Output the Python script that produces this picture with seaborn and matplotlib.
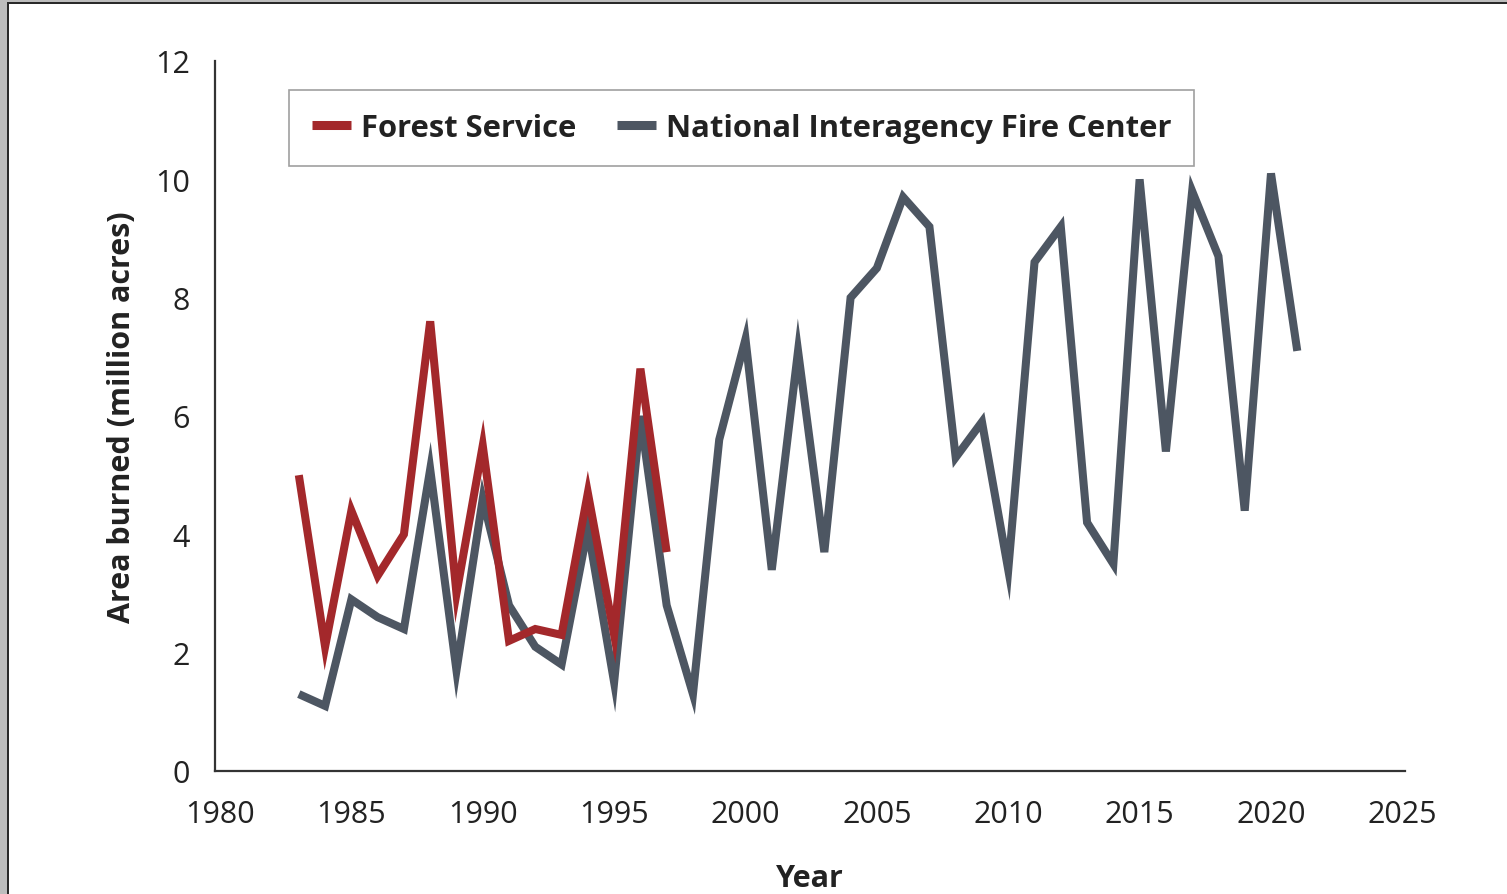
import pandas as pd
import numpy as np
import matplotlib
matplotlib.use("Agg")
import matplotlib.pyplot as plt
import seaborn as sns
from matplotlib.patches import Rectangle
from matplotlib.lines import Line2D

# Forest Service, 1983-1997
fs_years = list(range(1983, 1998))
fs_area = [5.0, 2.1, 4.4, 3.3, 4.0, 7.6, 3.0, 5.5, 2.2, 2.4, 2.3, 4.7, 2.3, 6.8, 3.7]

# National Interagency Fire Center, 1983-2021
nifc_years = list(range(1983, 2022))
nifc_area = [1.3, 1.1, 2.9, 2.6, 2.4, 5.1, 1.7, 4.6, 2.8, 2.1, 1.8, 4.1, 1.5, 6.0,
             2.8, 1.3, 5.6, 7.3, 3.4, 7.1, 3.7, 8.0, 8.5, 9.7, 9.2, 5.3, 5.9, 3.4,
             8.6, 9.2, 4.2, 3.5, 10.0, 5.4, 9.8, 8.7, 4.4, 10.1, 7.1]

x_ticks = [1980, 1985, 1990, 1995, 2000, 2005, 2010, 2015, 2020, 2025]
y_ticks = [0, 2, 4, 6, 8, 10, 12]

df = pd.concat([
    pd.DataFrame({"Year": fs_years, "Area": fs_area, "Source": "Forest Service"}),
    pd.DataFrame({"Year": nifc_years, "Area": nifc_area, "Source": "National Interagency Fire Center"}),
])

sns.set_style("white")
plt.rcParams["font.family"] = ["Open Sans", "DejaVu Sans"]

palette = {"Forest Service": "#a3282b", "National Interagency Fire Center": "#4d5662"}

fig = plt.figure(figsize=(15.07, 8.95), dpi=100)
ax = fig.add_axes([215 / 1507, (895 - 772) / 895, (1405 - 215) / 1507, (772 - 62) / 895])

# NIFC first so the red series sits on top
sns.lineplot(data=df, x="Year", y="Area", hue="Source", palette=palette,
             hue_order=["National Interagency Fire Center", "Forest Service"],
             linewidth=5.8, ax=ax, legend=False)
for ln in ax.lines:
    ln.set_solid_joinstyle("miter")
    ln.set_solid_capstyle("butt")

ax.set_xlim(1979.81, 2025.1)
ax.set_ylim(0, 12)
ax.set_xticks(x_ticks)
ax.set_yticks(y_ticks)
ax.tick_params(axis="both", length=0, labelsize=22, colors="#222222")
ax.tick_params(axis="x", pad=20)
ax.tick_params(axis="y", pad=18)

for s in ["top", "right"]:
    ax.spines[s].set_visible(False)
for s in ["left", "bottom"]:
    ax.spines[s].set_color("#333333")
    ax.spines[s].set_linewidth(1.6)

ax.set_xlabel("Year", fontsize=22, fontweight="bold", color="#222222", labelpad=25)
ax.set_ylabel("Area burned (million acres)", fontsize=22, fontweight="bold",
              color="#222222", labelpad=13)

handles = [Line2D([], [], color=palette["Forest Service"], linewidth=6.5, solid_capstyle="butt"),
           Line2D([], [], color=palette["National Interagency Fire Center"], linewidth=6.5,
                  solid_capstyle="butt")]
leg = ax.legend(handles, ["Forest Service", "National Interagency Fire Center"],
                loc="upper left", bbox_to_anchor=((289 - 215) / 1190, (772 - 91) / 710),
                borderaxespad=0, ncol=2, frameon=True, fancybox=False, handlelength=1.27,
                handletextpad=0.32, columnspacing=1.3, borderpad=0.74,
                prop={"size": 22.3, "weight": "bold"})
leg.get_frame().set_edgecolor("#888888")
leg.get_frame().set_linewidth(1.2)
for t in leg.get_texts():
    t.set_color("#222222")

# outer frame of the screenshot
W, H = 1507, 895
fig.patches.append(Rectangle((0, 0), 7 / W, 1, transform=fig.transFigure,
                             facecolor="#bdbdbd", edgecolor="none"))
fig.patches.append(Rectangle((7 / W, 0), 1.5 / W, 1 - 4 / H, transform=fig.transFigure,
                             facecolor="#2a2a2a", edgecolor="none"))
fig.patches.append(Rectangle((0, 1 - 3 / H), 1, 3 / H, transform=fig.transFigure,
                             facecolor="#bdbdbd", edgecolor="none"))
fig.patches.append(Rectangle((7 / W, 1 - 5 / H), 1, 2 / H, transform=fig.transFigure,
                             facecolor="#2a2a2a", edgecolor="none"))

fig.savefig("out.png", dpi=100)
